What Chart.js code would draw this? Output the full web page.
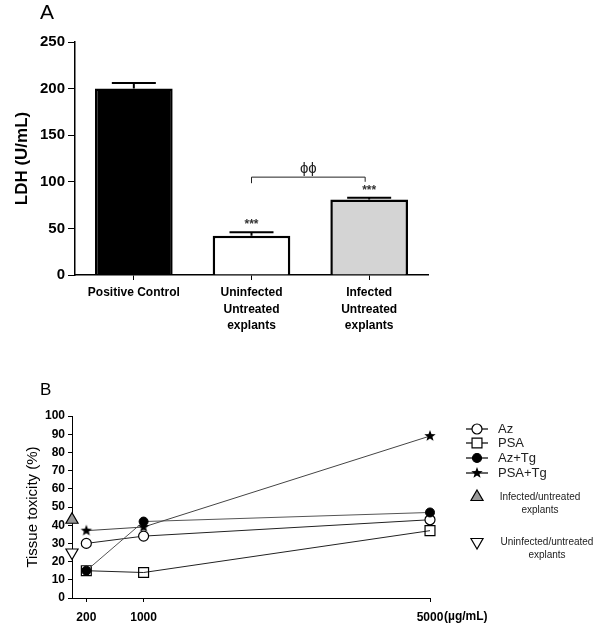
<!DOCTYPE html>
<html>
<head>
<meta charset="utf-8">
<script src="https://cdn.jsdelivr.net/npm/chart.js@4"></script>
<style>
  body { margin: 0; background: #fff; }
  canvas { position: absolute; left: 0; }
  #chartA { top: 0; }
  #chartB { top: 340px; }
</style>
</head>
<body>
<canvas id="chartA" width="600" height="340"></canvas>
<canvas id="chartB" width="600" height="294"></canvas>
<script>
const FONT = "'Liberation Sans', Arial, sans-serif";

// ── Panel A data ─────────────────────────────────────────────
const ldhLabels = [['Positive Control'], ['Uninfected', 'Untreated', 'explants'], ['Infected', 'Untreated', 'explants']];
const ldhValues = [200, 42, 81];
const ldhErrors = [6, 4, 2];
const ldhColors = ['#000000', '#ffffff', '#d4d4d4'];
const ldhStars = ['', '***', '***'];

// ── Panel B data ─────────────────────────────────────────────
const doses = [200, 1000, 5000];
const az = [30, 34, 43];
const psa = [15, 14, 37];
const azTg = [15, 42, 47];
const psaTg = [37, 39, 89];
const infectedCtrl = 43;
const uninfectedCtrl = 25;
const doseTicks = [200, 1000, 5000];

function punti(valori) {
    return doses.map((d, i) => ({ x: d, y: valori[i] }));
}

function stella(r) {
    const c = document.createElement('canvas');
    c.width = c.height = r * 2 + 2;
    const g = c.getContext('2d');
    g.fillStyle = '#000';
    g.beginPath();
    for (let i = 0; i < 10; i++) {
        const rr = i % 2 === 0 ? r : r * 0.42;
        const a = -Math.PI / 2 + i * Math.PI / 5;
        g.lineTo(r + 1 + Math.cos(a) * rr, r + 1 + Math.sin(a) * rr);
    }
    g.closePath();
    g.fill();
    return c;
}
const starImg = stella(6);

// ── Panel A: error bars, stars, bracket ──────────────────────
const annotazioniA = {
    id: 'annotazioniA',
    afterDatasetsDraw(chart) {
        const ctx = chart.ctx;
        const x = chart.scales.x, y = chart.scales.y;
        ctx.save();
        ctx.strokeStyle = '#000';
        ctx.lineWidth = 2;
        ldhValues.forEach((v, i) => {
            const cx = x.getPixelForValue(i);
            const top = y.getPixelForValue(v + ldhErrors[i]);
            ctx.beginPath();
            ctx.moveTo(cx, y.getPixelForValue(v));
            ctx.lineTo(cx, top);
            ctx.moveTo(cx - 22, top);
            ctx.lineTo(cx + 22, top);
            ctx.stroke();
            if (ldhStars[i]) {
                ctx.fillStyle = '#333';
                ctx.font = 'bold 12px ' + FONT;
                ctx.textAlign = 'center';
                ctx.textBaseline = 'bottom';
                ctx.fillText(ldhStars[i], cx, top - 1);
            }
        });
        // bracket between uninfected and infected
        const x1 = x.getPixelForValue(1), x2 = x.getPixelForValue(2) - 4;
        const yb = y.getPixelForValue(105);
        ctx.lineWidth = 1;
        ctx.strokeStyle = '#222';
        ctx.beginPath();
        ctx.moveTo(x1, y.getPixelForValue(98.5));
        ctx.lineTo(x1, yb);
        ctx.lineTo(x2, yb);
        ctx.lineTo(x2, y.getPixelForValue(100));
        ctx.stroke();
        ctx.fillStyle = '#222';
        ctx.font = '15px ' + FONT;
        ctx.textAlign = 'center';
        ctx.textBaseline = 'bottom';
        ctx.fillText('ϕϕ', (x1 + x2) / 2, yb - 1);
        // panel letter
        ctx.font = '21px ' + FONT;
        ctx.textAlign = 'left';
        ctx.textBaseline = 'middle';
        ctx.fillStyle = '#000';
        ctx.fillText('A', 40, 13);
        ctx.restore();
    }
};

new Chart(document.getElementById('chartA'), {
    type: 'bar',
    data: {
        labels: ldhLabels,
        datasets: [{
            data: ldhValues,
            backgroundColor: ldhColors,
            borderColor: '#000',
            borderWidth: 2.5,
            borderSkipped: 'bottom',
            barPercentage: 0.66,
            categoryPercentage: 1
        }]
    },
    options: {
        responsive: false,
        animation: false,
        layout: { padding: { left: 0, right: 172, top: 42, bottom: 0 } },
        plugins: { legend: { display: false }, tooltip: { enabled: false } },
        scales: {
            x: {
                grid: { drawOnChartArea: false, offset: false, tickLength: 5, color: '#000' },
                border: { color: '#000', width: 1.5 },
                ticks: { color: '#000', maxRotation: 0, padding: 5, font: { family: FONT, size: 12, weight: 'bold', lineHeight: 1.35 } },
                afterFit: s => { s.height = 65; }
            },
            y: {
                min: 0, max: 250,
                ticks: { stepSize: 50, color: '#000', padding: 3, font: { family: FONT, size: 15, weight: 'bold' } },
                grid: { drawOnChartArea: false, tickLength: 7, color: '#000' },
                border: { color: '#000', width: 1.5 },
                title: { display: true, text: 'LDH (U/mL)', color: '#000', padding: { top: 12, bottom: 0 }, font: { family: FONT, size: 17, weight: 'bold' } },
                afterFit: s => { s.width = 75; }
            }
        }
    },
    plugins: [annotazioniA]
});

// ── Panel B: legend, unit, letter ────────────────────────────
const voci = [
    { testo: ['Az'], style: 'circle', r: 5, fill: '#fff', linea: true, y: 89 },
    { testo: ['PSA'], style: 'rect', r: 7, fill: '#fff', linea: true, y: 103 },
    { testo: ['Az+Tg'], style: 'circle', r: 4.5, fill: '#000', linea: true, y: 118 },
    { testo: ['PSA+Tg'], style: starImg, r: 6, fill: '#000', linea: true, y: 133 },
    { testo: ['Infected/untreated', 'explants'], style: 'triangle', r: 7, fill: '#999', rot: 0, linea: false, y: 157 },
    { testo: ['Uninfected/untreated', 'explants'], style: 'triangle', r: 7, fill: '#fff', rot: 180, linea: false, y: 202 }
];

const legendaB = {
    id: 'legendaB',
    afterDraw(chart) {
        const ctx = chart.ctx;
        ctx.save();
        const sx = 477;
        voci.forEach(v => {
            ctx.strokeStyle = '#000';
            ctx.lineWidth = 1.2;
            if (v.linea) {
                ctx.beginPath();
                ctx.moveTo(sx - 11, v.y);
                ctx.lineTo(sx + 11, v.y);
                ctx.stroke();
            }
            ctx.fillStyle = v.fill;
            Chart.helpers.drawPoint(ctx, { pointStyle: v.style, radius: v.r, rotation: v.rot || 0, borderWidth: 1.2 }, sx, v.y);
            ctx.fillStyle = '#222';
            ctx.textBaseline = 'middle';
            if (v.testo.length === 1) {
                ctx.font = '13px ' + FONT;
                ctx.textAlign = 'left';
                ctx.fillText(v.testo[0], 498, v.y);
            } else {
                ctx.font = '10px ' + FONT;
                ctx.textAlign = 'center';
                const cx = v.rot ? 547 : 540;
                ctx.fillText(v.testo[0], cx, v.y);
                ctx.fillText(v.testo[1], cx, v.y + 13);
            }
        });
        const x = chart.scales.x;
        ctx.fillStyle = '#000';
        ctx.font = 'bold 12px ' + FONT;
        ctx.textAlign = 'left';
        ctx.textBaseline = 'middle';
        ctx.fillText('(µg/mL)', x.getPixelForValue(5000) + 14, 277);
        ctx.font = '17px ' + FONT;
        ctx.fillText('B', 40, 50);
        ctx.restore();
    }
};

new Chart(document.getElementById('chartB'), {
    type: 'line',
    data: {
        datasets: [
            { label: 'PSA+Tg', data: punti(psaTg), borderColor: '#444', borderWidth: 1, pointStyle: starImg, pointRadius: 6 },
            { label: 'Az+Tg', data: punti(azTg), borderColor: '#555', borderWidth: 1, pointStyle: 'circle', pointRadius: 4.5, pointBackgroundColor: '#000', pointBorderColor: '#000' },
            { label: 'Az', data: punti(az), borderColor: '#222', borderWidth: 1, pointStyle: 'circle', pointRadius: 5, pointBackgroundColor: '#fff', pointBorderColor: '#000', pointBorderWidth: 1.2 },
            { label: 'PSA', data: punti(psa), borderColor: '#222', borderWidth: 1, pointStyle: 'rect', pointRadius: 7, pointBackgroundColor: 'rgba(255,255,255,0)', pointBorderColor: '#000', pointBorderWidth: 1.2 },
            { label: 'Infected/untreated explants', data: [{ x: 0, y: infectedCtrl }], showLine: false, pointStyle: 'triangle', pointRadius: 7, pointBackgroundColor: '#999', pointBorderColor: '#000', pointBorderWidth: 1.2 },
            { label: 'Uninfected/untreated explants', data: [{ x: 0, y: uninfectedCtrl }], showLine: false, pointStyle: 'triangle', pointRotation: 180, pointRadius: 7, pointBackgroundColor: '#fff', pointBorderColor: '#000', pointBorderWidth: 1.2 }
        ]
    },
    options: {
        responsive: false,
        animation: false,
        clip: false,
        layout: { padding: { left: 0, right: 170, top: 76, bottom: 0 } },
        plugins: { legend: { display: false }, tooltip: { enabled: false } },
        elements: { line: { tension: 0 } },
        scales: {
            x: {
                type: 'linear', min: 0, max: 5000,
                afterBuildTicks: s => { s.ticks = doseTicks.map(v => ({ value: v })); },
                grid: { drawOnChartArea: false, tickLength: 4, color: '#000' },
                border: { color: '#000', width: 1 },
                ticks: { color: '#000', maxRotation: 0, padding: 8, callback: v => String(v), font: { family: FONT, size: 12, weight: 'bold' } },
                afterFit: s => { s.height = 36; }
            },
            y: {
                min: 0, max: 100,
                ticks: { stepSize: 10, color: '#000', padding: 3, font: { family: FONT, size: 12, weight: 'bold' } },
                grid: { drawOnChartArea: false, tickLength: 4, color: '#000' },
                border: { color: '#000', width: 1 },
                title: { display: true, text: 'Tissue toxicity (%)', color: '#000', padding: { top: 24, bottom: 0 }, font: { family: FONT, size: 15 } },
                afterFit: s => { s.width = 72; }
            }
        }
    },
    plugins: [legendaB]
});
</script>
</body>
</html>
